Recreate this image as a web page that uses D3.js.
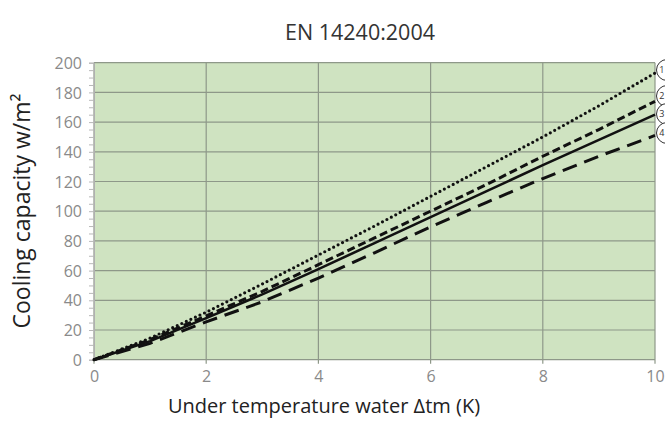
<!DOCTYPE html>
<html>
<head>
<meta charset="utf-8">
<script src="https://cdn.jsdelivr.net/npm/d3@7/dist/d3.min.js"></script>
<style>
  html, body { margin: 0; padding: 0; background: #ffffff; }
  svg { display: block; font-family: "Open Sans", "Noto Sans", sans-serif; }
</style>
</head>
<body>
<svg id="chart" width="665" height="421"></svg>
<script>
// ---- data ----
const xValues = [0, 1, 2, 3, 4, 5, 6, 7, 8, 9, 10];
const series1 = [0, 14.5, 32, 51, 70.5, 90, 110, 130, 150, 171, 193];   // dotted
const series2 = [0, 13.5, 29.5, 46, 64, 82, 100, 118, 137, 155, 174];   // short dashed
const series3 = [0, 12.5, 28, 44, 61, 78.5, 96, 113.5, 131, 148, 165];  // solid
const series4 = [0, 11, 25.5, 39, 55, 72, 89.5, 106, 122, 137, 151];    // long dashed
const seriesLabels = ["1", "2", "3", "4"];
const xTicks = [0, 2, 4, 6, 8, 10];
const yTicks = [0, 20, 40, 60, 80, 100, 120, 140, 160, 180, 200];
const yMinorTicks = d3.range(0, 201, 5);
const titleText = "EN 14240:2004";
const xTitle = "Under temperature water \u0394tm (K)";
const yTitle = "Cooling capacity w/m\u00B2";

// ---- layout ----
const svg = d3.select("#chart");
const m = { left: 94, right: 10, top: 62.7, bottom: 61.3 };
const W = 665, H = 421;
const x = d3.scaleLinear().domain([0, 10]).range([m.left, W - m.right]);
const y = d3.scaleLinear().domain([0, 200]).range([H - m.bottom, m.top]);

// plot background
svg.append("rect")
  .attr("x", x(0)).attr("y", y(200))
  .attr("width", x(10) - x(0)).attr("height", y(0) - y(200))
  .attr("fill", "#cfe3c1");

// grid
const gridColor = "#8e9889";
svg.append("g").selectAll("line").data(yTicks).join("line")
  .attr("x1", x(0)).attr("x2", x(10))
  .attr("y1", d => y(d)).attr("y2", d => y(d))
  .attr("stroke", gridColor).attr("stroke-width", 1.2);
svg.append("g").selectAll("line").data(xTicks).join("line")
  .attr("x1", d => x(d)).attr("x2", d => x(d))
  .attr("y1", y(200)).attr("y2", y(0) + 4)
  .attr("stroke", gridColor).attr("stroke-width", 1.2);

// left axis with minor ticks
const yAxis = d3.axisLeft(y).tickValues(yMinorTicks).tickSize(5).tickFormat("");
const gy = svg.append("g").attr("transform", `translate(${x(0)},0)`).call(yAxis);
gy.selectAll("line").attr("stroke", "#b8b8b8");
gy.select(".domain").attr("stroke", "#b0b0b0");

const yLab = d3.axisLeft(y).tickValues(yTicks).tickSize(0).tickPadding(12);
const gyl = svg.append("g").attr("transform", `translate(${x(0)},0)`).call(yLab);
gyl.select(".domain").remove();
gyl.selectAll("text").attr("fill", "#8a8a8a").style("font-size", "16px")
  .style("font-family", "'Open Sans', sans-serif").attr("dy", "0.35em");

const xLab = d3.axisBottom(x).tickValues(xTicks).tickSize(0).tickPadding(11);
const gxl = svg.append("g").attr("transform", `translate(0,${y(0)})`).call(xLab);
gxl.select(".domain").remove();
gxl.selectAll("text").attr("fill", "#8a8a8a").style("font-size", "16px")
  .style("font-family", "'Open Sans', sans-serif");

// lines
const line = d3.line().x((d, i) => x(xValues[i])).y(d => y(d));
const styles = [
  { data: series1, dash: "0,5", width: 3.2, cap: "round" },
  { data: series2, dash: "8,4", width: 3, cap: "butt" },
  { data: series3, dash: null, width: 2.6, cap: "butt" },
  { data: series4, dash: "15,8", width: 3, cap: "butt" }
];
svg.append("g").selectAll("path").data(styles).join("path")
  .attr("d", d => line(d.data))
  .attr("fill", "none")
  .attr("stroke", "#111")
  .attr("stroke-width", d => d.width)
  .attr("stroke-linecap", d => d.cap)
  .attr("stroke-dasharray", d => d.dash);

// numbered circles (partly beyond the right edge, as in the reference)
const lg = svg.append("g");
const circY = [70, 96, 114, 133];
lg.selectAll("circle").data(seriesLabels).join("circle")
  .attr("cx", 667).attr("cy", (d, i) => circY[i]).attr("r", 10.5)
  .attr("fill", "#fff").attr("stroke", "#333").attr("stroke-width", 1);
lg.selectAll("text").data(seriesLabels).join("text")
  .attr("x", 664.5).attr("y", (d, i) => circY[i]).attr("dy", "0.35em")
  .attr("text-anchor", "end").attr("fill", "#333").style("font-size", "9px")
  .text(d => d);

// titles
svg.append("text").attr("x", 360).attr("y", 40)
  .attr("text-anchor", "middle").attr("fill", "#333").style("font-size", "21.5px")
  .text(titleText);
svg.append("text").attr("x", 324).attr("y", 413)
  .attr("text-anchor", "middle").attr("fill", "#222").style("font-size", "20px")
  .text(xTitle);
svg.append("text").attr("transform", "translate(30,211) rotate(-90)")
  .attr("text-anchor", "middle").attr("fill", "#222").style("font-size", "23px")
  .text(yTitle);
</script>
</body>
</html>
